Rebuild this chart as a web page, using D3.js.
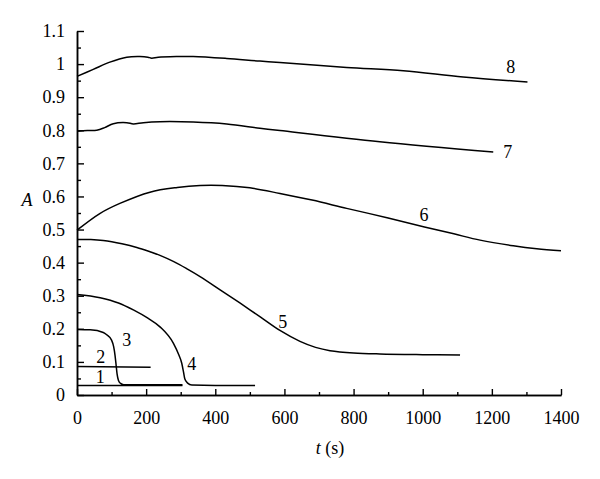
<!DOCTYPE html>
<html>
<head>
<meta charset="utf-8">
<script src="https://cdn.jsdelivr.net/npm/d3@7"></script>
<style>
  html, body { margin: 0; padding: 0; background: #fff; }
  svg { display: block; }
  text { font-family: "Liberation Serif", "Times New Roman", serif; fill: #000; }
</style>
</head>
<body>
<svg id="chart" width="600" height="479"></svg>
<script>
// ---- Data (t in s, A absorbance) ----
const curve1 = [[0,0.029],[305,0.029]];
const curve2 = [[0,0.086],[213,0.084]];
const curve3 = [[0,0.198],[38,0.197],[76,0.189],[86,0.182],[100,0.166],[106,0.146],[110,0.120],[113,0.092],[116,0.063],[120,0.044],[126,0.035],[135,0.031],[200,0.031],[305,0.031]];
const curve4 = [[0,0.304],[67,0.294],[120,0.278],[163,0.257],[205,0.232],[240,0.206],[279,0.156],[295,0.120],[303,0.096],[308,0.070],[312,0.048],[320,0.036],[332,0.030],[400,0.029],[515,0.029]];
const curve5 = [[0,0.470],[40,0.470],[76,0.467],[130,0.457],[173,0.446],[211,0.433],[240,0.422],[280,0.403],[317,0.382],[356,0.358],[414,0.318],[470,0.279],[530,0.236],[587,0.195],[645,0.162],[690,0.144],[732,0.134],[800,0.127],[876,0.124],[1000,0.122],[1108,0.121]];
const curve6 = [[0,0.498],[67,0.549],[124,0.579],[211,0.613],[290,0.627],[356,0.633],[420,0.633],[500,0.626],[587,0.609],[680,0.589],[780,0.564],[900,0.535],[1005,0.508],[1090,0.487],[1166,0.468],[1262,0.451],[1330,0.442],[1400,0.436]];
const curve7 = [[0,0.797],[30,0.799],[57,0.800],[80,0.808],[105,0.820],[144,0.823],[163,0.819],[192,0.823],[240,0.826],[336,0.825],[433,0.819],[529,0.806],[587,0.799],[876,0.765],[1204,0.734]];
const curve8 = [[0,0.963],[47,0.984],[95,1.006],[144,1.021],[182,1.023],[205,1.021],[216,1.018],[235,1.021],[290,1.023],[336,1.023],[433,1.017],[529,1.009],[587,1.005],[780,0.990],[944,0.980],[1117,0.961],[1303,0.946]];
const curves = [curve1, curve2, curve3, curve4, curve5, curve6, curve7, curve8];

const curveLabels = ["1","2","3","4","5","6","7","8"];
const labelPos = [[67,0.055],[69,0.116],[144,0.166],[332,0.096],[595,0.221],[1004,0.544],[1246,0.735],[1255,0.992]];

const xTicks = [0,200,400,600,800,1000,1200,1400];
const xTickLabels = ["0","200","400","600","800","1000","1200","1400"];
const xMinorTicks = [100,300,500,700,900,1100,1300];
const yTicks = [0,0.1,0.2,0.3,0.4,0.5,0.6,0.7,0.8,0.9,1.0,1.1];
const yTickLabels = ["0","0.1","0.2","0.3","0.4","0.5","0.6","0.7","0.8","0.9","1","1.1"];
const yMinorTicks = [0.05,0.15,0.25,0.35,0.45,0.55,0.65,0.75,0.85,0.95,1.05];

// ---- Scales ----
const svg = d3.select("#chart");
const x = d3.scaleLinear().domain([0,1400]).range([77,561]);
const y = d3.scaleLinear().domain([0,1.1]).range([395,31]);

const axisStyle = g => {
  g.selectAll(".domain").attr("stroke","#000").attr("stroke-width",1.5);
  g.selectAll(".tick line").attr("stroke","#000").attr("stroke-width",1.4);
  g.selectAll("text").style("font-family","'Liberation Serif', 'Times New Roman', serif").style("font-size","18px").attr("fill","#000");
};

// minor ticks
svg.append("g").attr("transform","translate(0,395)")
  .call(d3.axisBottom(x).tickValues(xMinorTicks).tickSizeInner(-3).tickSizeOuter(0).tickFormat(""))
  .call(axisStyle);
svg.append("g").attr("transform","translate(77,0)")
  .call(d3.axisLeft(y).tickValues(yMinorTicks).tickSizeInner(-4).tickSizeOuter(0).tickFormat(""))
  .call(axisStyle);

// major ticks
svg.append("g").attr("transform","translate(0,395)")
  .call(d3.axisBottom(x).tickValues(xTicks).tickSizeInner(-6).tickSizeOuter(0).tickPadding(16)
        .tickFormat((d,i)=>xTickLabels[i]))
  .call(axisStyle);
svg.append("g").attr("transform","translate(77,0)")
  .call(d3.axisLeft(y).tickValues(yTicks).tickSizeInner(-7).tickSizeOuter(0).tickPadding(12)
        .tickFormat((d,i)=>yTickLabels[i]))
  .call(axisStyle);

// axis titles
const xt = svg.append("text").attr("x",330).attr("y",454).attr("text-anchor","middle").style("font-size","18px");
xt.append("tspan").style("font-style","italic").text("t");
xt.append("tspan").text(" (s)");
svg.append("text").attr("x",27).attr("y",206).attr("text-anchor","middle")
  .style("font-size","18px").style("font-style","italic").text("A");

// curves
const sharpLine = d3.line().x(d=>x(d[0])).y(d=>y(d[1])).curve(d3.curveMonotoneX);
const smoothLine = d3.line().x(d=>x(d[0])).y(d=>y(d[1])).curve(d3.curveCatmullRom.alpha(0.5));
svg.append("g").selectAll("path").data(curves).join("path")
  .attr("d", (d,i) => i < 4 ? sharpLine(d) : smoothLine(d))
  .attr("fill","none").attr("stroke","#000").attr("stroke-width",1.5);

// curve labels
svg.append("g").selectAll("text").data(labelPos).join("text")
  .attr("x", d=>x(d[0])).attr("y", d=>y(d[1])).attr("dy","0.35em")
  .attr("text-anchor","middle").style("font-size","18px")
  .text((d,i)=>curveLabels[i]);
</script>
</body>
</html>
